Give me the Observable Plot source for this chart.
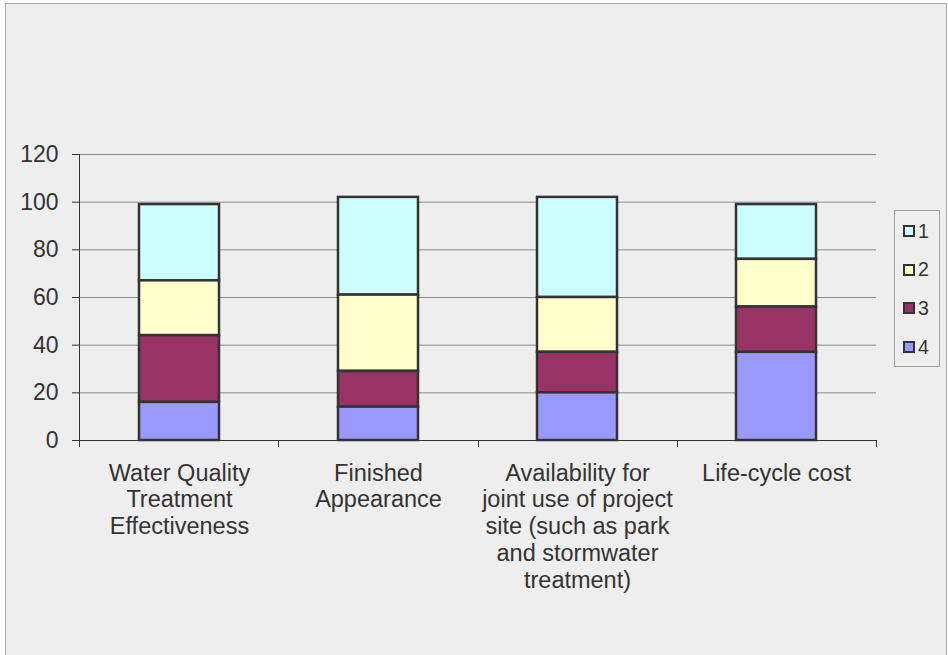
<!DOCTYPE html>
<html>
<head>
<meta charset="utf-8">
<script src="https://cdn.jsdelivr.net/npm/d3@7"></script>
<script src="https://cdn.jsdelivr.net/npm/@observablehq/plot@0.6"></script>
<style>
  body { margin: 0; background: #ffffff; font-family: "Liberation Sans", Arial, sans-serif; }
  #frame { position: absolute; left: 5px; top: 3px; width: 940px; height: 700px; border: 1px solid #aaaaaa; background: #eeeeee; }
  #chart { position: absolute; left: 0; top: 0; }
  #legend { position: absolute; left: 894px; top: 210px; width: 44px; height: 155px; border: 1px solid #a0a0a0; background: #eeeeee; }
  .item { position: absolute; left: 8px; height: 20px; display: flex; align-items: center; font-size: 19.5px; color: #333333; }
  .sw { width: 8px; height: 8px; border: 2px solid #333333; margin-right: 3px; }
</style>
</head>
<body>
<div id="frame"></div>
<div id="chart"></div>
<div id="legend"></div>
<script>
const categories = [
  "Water Quality\nTreatment\nEffectiveness",
  "Finished\nAppearance",
  "Availability for\njoint use of project\nsite (such as park\nand stormwater\ntreatment)",
  "Life-cycle cost"
];
const seriesNames = ["1", "2", "3", "4"];
const series1 = [32, 41, 42, 23];
const series2 = [23, 32, 23, 20];
const series3 = [28, 15, 17, 19];
const series4 = [16, 14, 20, 37];
const seriesColors = ["#ccffff", "#ffffcc", "#993366", "#9999ff"];
const yTicks = [0, 20, 40, 60, 80, 100, 120];

const seriesValues = [series1, series2, series3, series4];
const rows = [];
seriesNames.forEach((s, si) => {
  categories.forEach((c, ci) => rows.push({category: c, series: s, value: seriesValues[si][ci]}));
});

const boundaryTicks = (index, scales, channels, dimensions) => {
  const {width, height, marginLeft, marginRight, marginBottom} = dimensions;
  const step = (width - marginLeft - marginRight) / categories.length;
  const g = d3.create("svg:g").attr("stroke", "#333333").attr("stroke-width", 1);
  for (let i = 0; i <= categories.length; i++) {
    const x = Math.round(marginLeft + i * step) + 0.5;
    g.append("line").attr("x1", x).attr("x2", x)
      .attr("y1", height - marginBottom).attr("y2", height - marginBottom + 7);
  }
  return g.node();
};

const chart = Plot.plot({
  width: 948,
  height: 655,
  marginLeft: 79,
  marginRight: 72,
  marginTop: 154,
  marginBottom: 215,
  style: {background: "transparent", fontFamily: "'Liberation Sans', Arial, sans-serif", fontSize: "23px", color: "#333333", overflow: "visible"},
  x: {domain: categories, paddingInner: 0.6, paddingOuter: 0.3, axis: null},
  y: {domain: [0, 120], axis: null},
  color: {domain: seriesNames, range: seriesColors},
  marks: [
    Plot.gridY(yTicks, {stroke: "#8a8a8a", strokeOpacity: 1}),
    Plot.barY(rows, {x: "category", y: "value", fill: "series", stroke: "#333333", strokeWidth: 2.5, order: ["4", "3", "2", "1"]}),
    Plot.ruleY([0], {stroke: "#333333"}),
    Plot.frame({anchor: "left", stroke: "#333333"}),
    Plot.axisY({ticks: yTicks, tickSize: 7, tickPadding: 14, fontSize: 23, color: "#333333", label: null}),
    boundaryTicks,
    Plot.text(categories, {x: d => d, frameAnchor: "bottom", lineAnchor: "top", dy: 21, fontSize: 23.5, lineHeight: 1.14, fill: "#333333"})
  ]
});
document.getElementById("chart").appendChild(chart);

const legend = document.getElementById("legend");
seriesNames.forEach((s, i) => {
  const item = document.createElement("div");
  item.className = "item";
  item.style.top = (10 + i * 38.7) + "px";
  const sw = document.createElement("div");
  sw.className = "sw";
  sw.style.background = seriesColors[i];
  const t = document.createElement("span");
  t.textContent = s;
  item.appendChild(sw);
  item.appendChild(t);
  legend.appendChild(item);
});
</script>
</body>
</html>
